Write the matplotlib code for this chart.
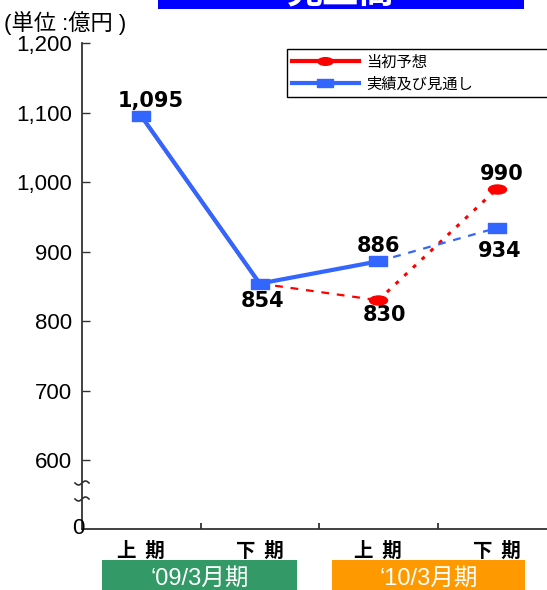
import numpy as np
import matplotlib
matplotlib.use('Agg')
import matplotlib.pyplot as plt
import matplotlib.transforms as mtransforms
from matplotlib.path import Path
from matplotlib.patches import Rectangle
from matplotlib.lines import Line2D

# ---------------- data ----------------
periods = ['上期', '下期', '上期', '下期']
fiscal_years = ['‘09/3月期', '‘10/3月期']
initial_forecast = [1095, 854, 830, 990]
actual_outlook = [1095, 854, 886, 934]
series_names = ['当初予想', '実績及び見通し']
yticks = [600, 700, 800, 900, 1000, 1100, 1200]
title = '売上高'
unit_label = '(単位 :億円 )'

# ---------------- figure ----------------
W, H = 547, 590
fig = plt.figure(figsize=(W / 100, H / 100), dpi=100)


def fx(px):
    return px / W


def fy(py):
    return 1 - py / H


RED = '#FF0000'
BLUE = '#3366FF'
CJK = ['Noto Sans CJK JP', 'DejaVu Sans']
LAT = ['Liberation Sans', 'Noto Sans CJK JP']

ax = fig.add_axes([fx(82), fy(529), 474 / W, (529 - 43) / H])
x = np.arange(len(periods)) + 0.5
Y0 = 501  # position of the broken-axis zero

rect_marker = Path([(-1, -0.5), (1, -0.5), (1, 0.5), (-1, 0.5), (-1, -0.5)],
                   [Path.MOVETO, Path.LINETO, Path.LINETO, Path.LINETO, Path.CLOSEPOLY])
circ = Path.unit_circle()
ell_marker = Path(circ.vertices * np.array([1.0, 0.5]), circ.codes)

# initial forecast (red)
ax.plot(x[0:2], initial_forecast[0:2], color=RED, lw=2.5, zorder=2)
ax.plot(x[1:3], initial_forecast[1:3], color=RED, lw=1.6, dashes=(3.5, 3.5), zorder=2)
ax.plot(x[2:4], initial_forecast[2:4], color=RED, lw=2.2, dashes=(1.3, 2.6), zorder=2)
ax.plot(x[2:4], initial_forecast[2:4], ls='none', marker=ell_marker, ms=13,
        color=RED, mec=RED, zorder=3)

# actual & outlook (blue)
ax.plot(x[2:4], actual_outlook[2:4], color=BLUE, lw=1.6, dashes=(3.5, 3.5), zorder=3)
ax.plot(x[0:3], actual_outlook[0:3], color=BLUE, lw=3, marker=rect_marker, ms=13,
        mec=BLUE, zorder=4)
ax.plot(x[3:4], actual_outlook[3:4], ls='none', marker=rect_marker, ms=13,
        color=BLUE, mec=BLUE, zorder=4)

# value labels
lab_font = dict(fontsize=15, fontweight='bold', family='DejaVu Sans', ha='center', va='center')
label_specs = [
    (actual_outlook, 0, 9, 15),
    (actual_outlook, 1, 3, -17),
    (actual_outlook, 2, 0, 15),
    (initial_forecast, 2, 6, -15),
    (initial_forecast, 3, 5, 15),
    (actual_outlook, 3, 3, -23),
]
for series, i, dx, dy in label_specs:
    ax.annotate(f'{series[i]:,}', (x[i], series[i]), xytext=(dx, dy),
                textcoords='offset pixels', zorder=6, **lab_font)

# axes
ax.set_xlim(0, 4)
ax.set_ylim(Y0, 1200)
ax.set_yticks(yticks)
ax.set_yticklabels([f'{v:,}' for v in yticks], fontsize=16, family=LAT)
ax.set_xticks([1, 2, 3])
ax.set_xticklabels([])
ax.tick_params(axis='y', direction='in', length=6, width=1, pad=7, color='#333333')
ax.tick_params(axis='x', direction='in', length=4, width=1.3, color='#333333')
for s in ['top', 'right']:
    ax.spines[s].set_visible(False)
for s in ['left', 'bottom']:
    ax.spines[s].set_color('#333333')
    ax.spines[s].set_linewidth(1.3)

fig.text(fx(78), fy(529), '0', fontsize=16, family=LAT, ha='center', va='center')

# break marks on the y axis
xs = np.linspace(-7, 7, 40)
for yb in [483, 499]:
    ys = yb - 2.0 * np.sin(np.pi * xs / 7)
    fig.add_artist(Line2D(fx(82 + xs), fy(ys), transform=fig.transFigure,
                          color='#333333', lw=1.2))

# category labels
trans = mtransforms.blended_transform_factory(ax.transData, fig.transFigure)
for xi, p in zip(x, periods):
    ax.text(xi, fy(551), '  '.join(p), transform=trans, ha='center', va='center',
            fontsize=14, fontweight='bold', family=CJK, clip_on=False)

# fiscal year boxes
year_boxes = [(102, 297, '#339966'), (332, 525, '#FF9900')]
for (x0, x1, col), lab in zip(year_boxes, fiscal_years):
    fig.add_artist(Rectangle((fx(x0), 0), (x1 - x0) / W, fy(560), transform=fig.transFigure,
                             color=col, lw=0))
    fig.text(fx((x0 + x1) / 2), fy(579), lab, color='white', fontsize=17,
             family=['Liberation Sans', 'Noto Sans CJK JP'], ha='center', va='center')

# title box (top, mostly cut off as in the reference)
fig.add_artist(Rectangle((fx(158), fy(9)), (524 - 158) / W, 30 / H, transform=fig.transFigure,
                         color='#0000FF', lw=0))
fig.text(fx(341), fy(-7), title, color='white', fontsize=26, fontweight='bold',
         family=CJK, ha='center', va='center')

# unit label
fig.text(fx(4), fy(23), unit_label, fontsize=16, family=LAT, ha='left', va='center')

# legend
handles = [
    Line2D([], [], color=RED, lw=3, marker=ell_marker, ms=11, mec=RED),
    Line2D([], [], color=BLUE, lw=3, marker=rect_marker, ms=11, mec=BLUE),
]
leg = ax.legend(handles, series_names, loc='upper left',
                bbox_to_anchor=(fx(287), fy(99), (580 - 287) / W, 50 / H),
                bbox_transform=fig.transFigure, mode='expand', frameon=True,
                fancybox=False, edgecolor='black', framealpha=1, borderaxespad=0,
                prop=dict(family='Noto Sans CJK JP', size=11), handlelength=4.4,
                labelspacing=0.3, borderpad=0.3, handletextpad=0.5)
leg.get_frame().set_linewidth(1.0)
leg.set_zorder(10)

fig.savefig('out.png', dpi=100)
